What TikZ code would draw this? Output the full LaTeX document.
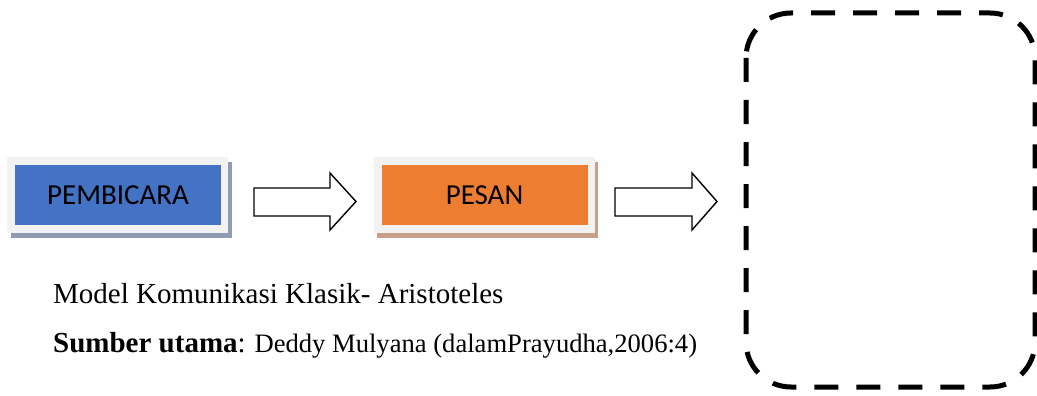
\documentclass[tikz,border=0pt]{standalone}
\usepackage{fontspec}
\setmainfont{Liberation Serif}
\newfontfamily\carlitofont{Carlito}
\definecolor{boxblue}{HTML}{4472C4}
\definecolor{boxorange}{HTML}{ED7D31}
\definecolor{framegray}{HTML}{F2F2F2}
\definecolor{shadowblue}{HTML}{8E9BB3}
\definecolor{shadoworange}{HTML}{C6A08A}
\tikzset{
  frame/.style={fill=framegray, draw=none, minimum width=221pt, minimum height=76pt, inner sep=0pt},
  shadowbox/.style={draw=none, minimum width=221pt, minimum height=76pt, inner sep=0pt},
  inner/.style={draw=none, minimum width=206pt, minimum height=60pt, inner sep=0pt,
     font=\carlitofont\fontsize{29}{32}\selectfont, text=black},
  blockarrow/.style={draw=black, line width=1.4pt, fill=white, line join=miter},
  caption/.style={anchor=base west, inner sep=0pt, text=black},
  dashedframe/.style={draw=black, line width=5pt, dash pattern=on 24pt off 18pt, rounded corners=45pt}
}
\begin{document}
\begin{tikzpicture}[x=1pt,y=-1pt]
\useasboundingbox (0,0) rectangle (1037,396);
% PEMBICARA
\node[shadowbox, fill=shadowblue] (pembshadow) at (121.5,200) {};
\node[frame] (pembframe) at (117.5,195) {};
\node[inner, fill=boxblue] (pemb) at (118,195) {PEMBICARA};
% PESAN
\node[shadowbox, fill=shadoworange] (pesanshadow) at (487.5,200) {};
\node[frame] (pesanframe) at (484,195) {};
\node[inner, fill=boxorange] (pesan) at (484.5,195) {PESAN};
% block arrows
\draw[blockarrow] (254,188) -- (330,188) -- (330,173) -- (356,201.5) -- (330,230) -- (330,216) -- (254,216) -- cycle;
\draw[blockarrow] (615,188) -- (692,188) -- (692,173) -- (717,201.5) -- (692,230) -- (692,216) -- (615,216) -- cycle;
% dashed rounded frame
\draw[dashedframe] (746,13) rectangle (1035,387);
% captions
\node[caption, font=\fontsize{29}{32}\selectfont] (cap1) at (53,303) {Model Komunikasi Klasik- Aristoteles};
\node[caption, font=\fontsize{29}{32}\selectfont] (cap2) at (53,352) {\textbf{Sumber utama}:{\fontsize{26.6}{30}\selectfont{} Deddy Mulyana (dalamPrayudha,2006:4)}};
\end{tikzpicture}
\end{document}
